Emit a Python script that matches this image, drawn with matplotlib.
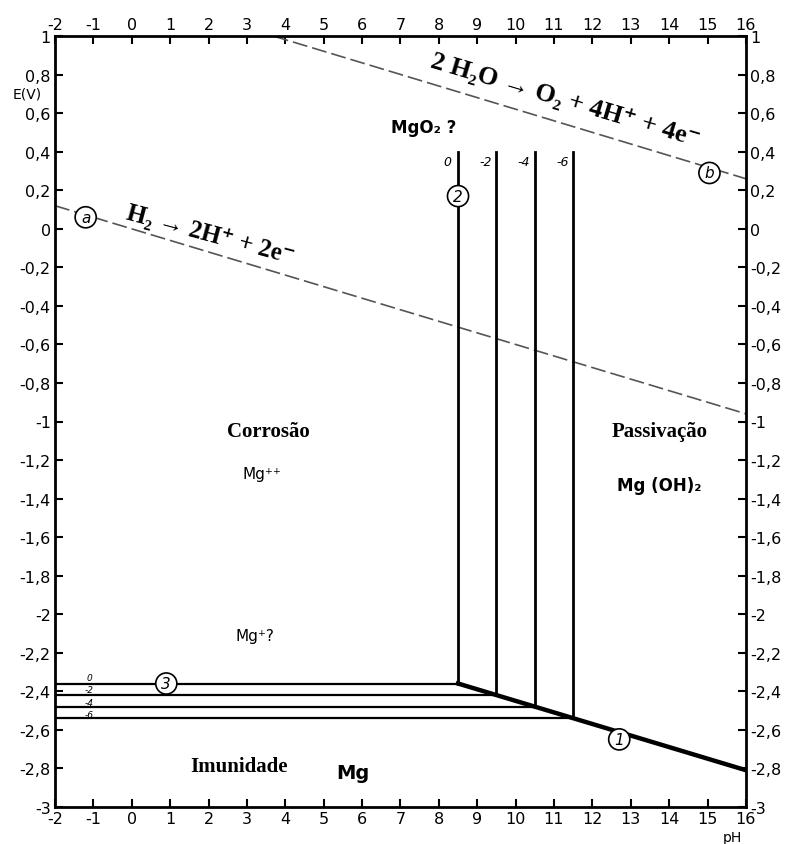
import matplotlib.pyplot as plt
import numpy as np

# pH / E(V) values
ph_limits = [-2, 16]
e_limits = [-3, 1]

# water stability lines (dashed): a = hydrogen, b = oxygen
ph_a = [-2, 16]
e_a = [0.12, -0.96]
ph_b = [3.7, 16]
e_b = [1.0, 0.26]

# Mg++ / Mg(OH)2 verticals and Mg++ / Mg horizontals for log[Mg++] = 0, -2, -4, -6
log_conc = ["0", "-2", "-4", "-6"]
ph_vert = [8.5, 9.5, 10.5, 11.5]
e_vert_top = 0.40
e_horiz = [-2.36, -2.42, -2.48, -2.54]

# Mg(OH)2 / Mg line (1)
ph_line1 = [8.5, 16]
e_line1 = [-2.36, -2.81]

x_ticks = list(range(-2, 17))
y_ticks = [round(v, 1) for v in np.arange(-3, 1.01, 0.2)]


def fmt_e(v):
    if abs(v - round(v)) < 1e-6:
        s = str(int(round(v)))
    else:
        s = ("%.1f" % v).replace(".", ",")
    return s.replace("−", "-")


serif = ["Liberation Serif", "DejaVu Serif"]

fig = plt.figure(figsize=(7.91, 8.45), dpi=100)
ax = fig.add_axes([0.0695, 0.044, 0.8735, 0.912])
ax.set_xlim(*ph_limits)
ax.set_ylim(*e_limits)

for sp in ax.spines.values():
    sp.set_linewidth(2)

ax.set_xticks(x_ticks)
ax.set_xticklabels([str(t) for t in x_ticks])
ax.set_yticks(y_ticks)
ax.set_yticklabels([fmt_e(t) for t in y_ticks])
ax.tick_params(direction="in", length=6, width=1.5, labelsize=11.5,
               top=True, right=True, labeltop=True, labelright=True, pad=3)

# dashed water lines
ax.plot(ph_a, e_a, ls=(0, (9, 3)), color="#555555", lw=1.2)
ax.plot(ph_b, e_b, ls=(0, (9, 3)), color="#555555", lw=1.2)

# vertical lines
for ph, lab in zip(ph_vert, log_conc):
    e_bot = np.interp(ph, ph_line1, e_line1)
    ax.plot([ph, ph], [e_bot, e_vert_top], color="black", lw=2)
    ax.text(ph - 0.28, 0.35, lab, fontsize=9, style="italic", ha="center", va="center")

# horizontal lines
for ph, e in zip(ph_vert, e_horiz):
    ax.plot([-2, ph], [e, e], color="black", lw=1.6)

ax.plot(ph_line1, e_line1, color="black", lw=3.2)

# small labels on left of horizontals
for e, lab in zip([-2.33, -2.39, -2.46, -2.52], log_conc):
    ax.text(-1.1, e, lab, fontsize=6.5, style="italic", ha="center", va="center")

# circled line labels
circ = dict(boxstyle="circle,pad=0.2", fc="white", ec="black", lw=1.2)
for ph, e, lab in [(-1.2, 0.06, "a"), (15.05, 0.29, "b"), (8.5, 0.17, "2"),
                   (0.9, -2.36, "3"), (12.7, -2.65, "1")]:
    ax.text(ph, e, lab, fontsize=11, style="italic", ha="center", va="center",
            bbox=circ, zorder=5)

# equations
ax.text(2.05, -0.03, "H₂ → 2H⁺ + 2e⁻", fontsize=18,
        family=serif, weight="bold", rotation=-15,
        ha="center", va="center", rotation_mode="anchor")
ax.text(11.3, 0.67, "2 H₂O → O₂ + 4H⁺ + 4e⁻", fontsize=19,
        family=serif, weight="bold", rotation=-16.5,
        ha="center", va="center", rotation_mode="anchor")

# region names
for ph, e, lab in [(3.55, -1.05, "Corrosão"), (13.75, -1.05, "Passivação"),
                   (2.8, -2.79, "Imunidade")]:
    ax.text(ph, e, lab, fontsize=15, family=serif, weight="bold",
            ha="center", va="center")

# species
ax.text(5.75, -2.82, "Mg", fontsize=14, weight="bold", ha="center", va="center")
ax.text(3.4, -1.27, "Mg⁺⁺", fontsize=11, ha="center", va="center")
ax.text(3.2, -2.11, "Mg⁺?", fontsize=11, ha="center", va="center")
ax.text(13.75, -1.33, "Mg (OH)₂", fontsize=12, weight="bold", ha="center", va="center")
ax.text(7.6, 0.53, "MgO₂ ?", fontsize=12, weight="bold", ha="center", va="center")

ax.text(-2.72, 0.705, "E(V)", fontsize=10, ha="center", va="center")
ax.text(15.66, -3.155, "pH", fontsize=10, ha="center", va="center", clip_on=False)

fig.savefig("out.png", dpi=100)
